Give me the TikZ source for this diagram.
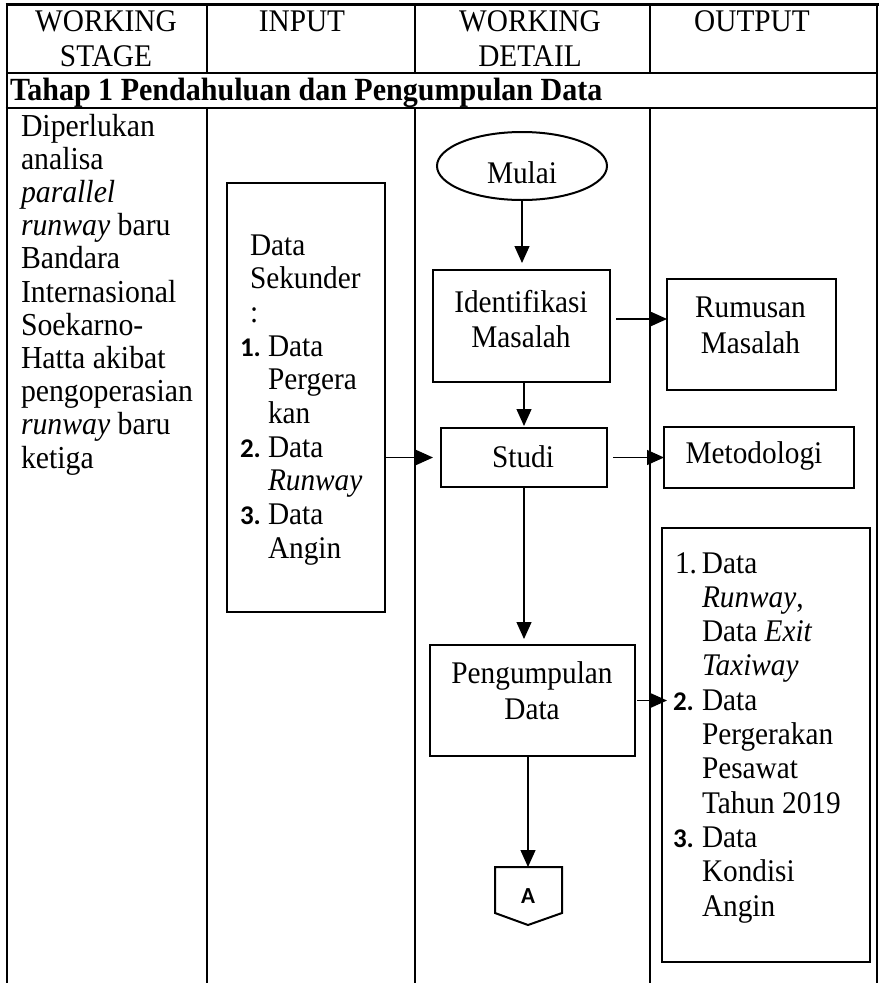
\documentclass[tikz,border=0pt]{standalone}
\usepackage{fontspec}
\setmainfont{Liberation Serif}[FakeStretch=0.93]
\newfontfamily\listnum{Carlito}
\usetikzlibrary{arrows.meta,shapes.geometric}

% list helpers: a numbered item and the hanging indent of its follow-up lines
\newcommand\ListNum[2]{\makebox[#1][l]{\listnum\bfseries\fontsize{27}{27}\selectfont #2}}
\newcommand\ListIndent[1]{\hspace*{#1}}

\begin{document}
\setlength{\lineskiplimit}{-50pt}
% multi-line nodes are placed by the baseline of their last line
\begin{tikzpicture}[x=1pt,y=-1pt,
  every node/.style={inner sep=0pt,outer sep=0pt},
  body/.style={font=\fontsize{31.5}{#1}\selectfont},
  body/.default=34,
  hdr/.style={body=35,align=center,anchor=base},
  fbox/.style={draw,line width=2.5pt,rectangle,minimum width=#1},
  ftxt/.style={body=36,align=center,anchor=base},
  conn/.style={line width=1.3pt,-{Triangle[length=17pt,width=15pt]}}
]
\useasboundingbox (0,0) rectangle (882,983);
\fill[white] (0,0) rectangle (882,983);

% ---- table frame ----
\draw[line width=3pt] (5.5,4) -- (878.5,4);
\draw[line width=1.3pt] (7,73) -- (877,73);
\draw[line width=2.5pt] (5.7,108) -- (878.3,108);
\draw[line width=2.5pt] (7,4) -- (7,983);
\draw[line width=2.5pt] (877,4) -- (877,983);
\foreach \cx in {207,415,650}{
  \draw[line width=1.3pt] (\cx,4) -- (\cx,73);
  \draw[line width=2pt] (\cx,108) -- (\cx,983);
}

% ---- header ----
\node[hdr] (hStage) at (106,66.7) {WORKING\\STAGE};
\node[hdr] (hInput) at (302,31.7) {INPUT};
\node[hdr] (hDetail) at (530,66.7) {WORKING\\DETAIL};
\node[hdr] (hOutput) at (752,31.7) {OUTPUT};
\node[anchor=base west,font=\fontsize{32.3}{35}\selectfont\bfseries] (stage) at (10,100)
  {Tahap 1 Pendahuluan dan Pengumpulan Data};

% ---- working stage ----
\node[anchor=base west,align=left,font=\fontsize{32}{33.2}\selectfont] (reason) at (21,468)
  {Diperlukan\\analisa\\\textit{parallel}\\\textit{runway} baru\\Bandara\\Internasional\\Soekarno-\\Hatta akibat\\pengoperasian\\\textit{runway} baru\\ketiga};

% ---- input ----
\node[fbox=158pt,minimum height=429pt] (inbox) at (306,397.5) {};
\node[body=33.7,anchor=base west,align=left] (inlist) at (240,558.3)
  {\ListIndent{10pt}Data\\\ListIndent{10pt}Sekunder\\\ListIndent{10pt}:\\
   \ListNum{28pt}{1.}Data\\\ListIndent{28pt}Pergera\\\ListIndent{28pt}kan\\
   \ListNum{28pt}{2.}Data\\\ListIndent{28pt}\textit{Runway}\\
   \ListNum{28pt}{3.}Data\\\ListIndent{28pt}Angin};

% ---- working detail ----
\node[draw,ellipse,line width=2pt,minimum width=170pt,minimum height=68pt] (mulai) at (522,166) {};
\node[ftxt] (mulaiT) at (522,183) {Mulai};
\node[fbox=177pt,minimum height=112pt] (ident) at (521.5,326) {};
\node[ftxt,body=35] (identT) at (521,347) {Identifikasi\\Masalah};
\node[fbox=166pt,minimum height=59pt] (studi) at (524,457.5) {};
\node[ftxt] (studiT) at (523,467) {Studi};
\node[fbox=205pt,minimum height=111pt] (peng) at (532.5,700.5) {};
\node[ftxt] (pengT) at (532,719) {Pengumpulan\\Data};

% off-page connector
\coordinate (conTop) at (528,867);
\draw[line width=2pt,line join=miter]
  (495,867) -- (562,867) -- (562,913) -- (528,925) -- (495,913) -- cycle;
\node[font=\listnum\bfseries\fontsize{23}{23}\selectfont] (conA) at (528,896) {A};

% ---- output ----
\node[fbox=169pt,minimum height=111pt] (rumusan) at (751.5,334.5) {};
\node[ftxt] (rumusanT) at (750.5,353) {Rumusan\\Masalah};
\node[fbox=190pt,minimum height=61pt] (metod) at (759,457.5) {};
\node[ftxt] (metodT) at (754,463) {Metodologi};
\node[fbox=208pt,minimum height=434pt] (outbox) at (766,745) {};
\node[body=34.3,anchor=base west,align=left] (outlist) at (673,916)
  {\makebox[29pt][l]{\hspace*{2pt}1.}Data\\\ListIndent{29pt}\textit{Runway},\\
   \ListIndent{29pt}Data \textit{Exit}\\\ListIndent{29pt}\textit{Taxiway}\\
   \ListNum{29pt}{2.}Data\\\ListIndent{29pt}Pergerakan\\\ListIndent{29pt}Pesawat\\
   \ListIndent{29pt}Tahun 2019\\
   \ListNum{29pt}{3.}Data\\\ListIndent{29pt}Kondisi\\\ListIndent{29pt}Angin};

% ---- connectors ----
\draw[conn,shorten >=7pt] (mulai.south) -- (mulai.south |- ident.north);
\draw[conn] ([xshift=6pt,yshift=7pt]ident.east) coordinate (r1) -- (r1 -| rumusan.west);
\draw[conn,shorten >=2pt] (studi.north |- ident.south) -- (studi.north);
\draw[conn,shorten >=8pt] (inbox.east |- studi.west) -- (studi.west);
\draw[conn,shorten <=6pt] (studi.east) -- (metod.west);
\draw[conn,shorten >=6pt] (studi.south) -- (studi.south |- peng.north);
\draw[conn,shorten <=2pt,shorten >=-5pt] (peng.east) -- (peng.east -| outbox.west);
\draw[conn] (conTop |- peng.south) -- (conTop);
\end{tikzpicture}
\end{document}
